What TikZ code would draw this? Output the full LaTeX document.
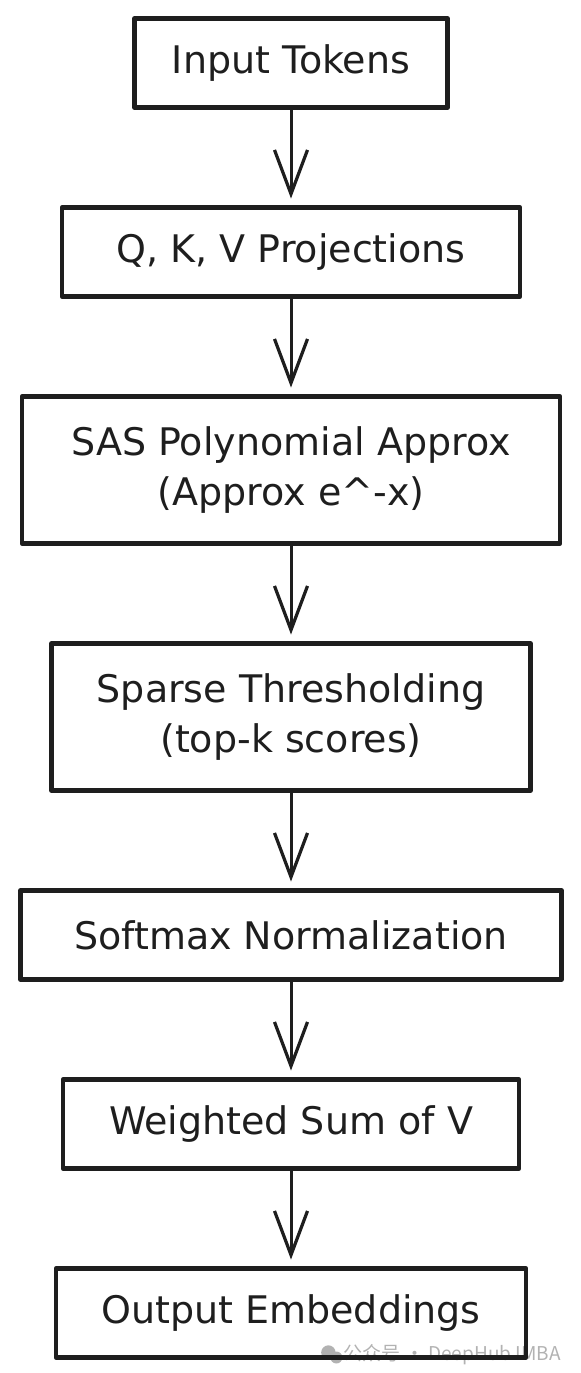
\documentclass[tikz,border=0pt]{standalone}
\usepackage{fontspec}
\setmainfont{DejaVu Sans}
\newfontfamily\cjkfont{Noto Sans CJK SC}
\usepackage{tikz}
\usetikzlibrary{arrows.meta, positioning, backgrounds}

\definecolor{ink}{HTML}{1E1E1E}

\begin{document}
\begin{tikzpicture}[
    x=0.5pt, y=-0.5pt,
    stage/.style={draw=ink, line width=2.2pt, line join=round, inner sep=2pt, outer sep=0pt, align=center, text=ink, font=\fontsize{19}{25}\selectfont, minimum height=44.5pt},
    twoline/.style={minimum height=73.5pt},
    flow/.style={draw=ink, line width=1.5pt, shorten >=4.5pt, -{Straight Barb[length=22pt, width=16.5pt, line width=1.6pt]}},
    node distance=50pt,
    ]
    \useasboundingbox (0,0) rectangle (580,1373);

    % Input (top)
    \node[stage, minimum width=156.5pt] (tok) at (291, 63) {Input Tokens};

    % Projections and attention stages
    \node[stage, minimum width=229pt, below=of tok] (qkv) {Q, K, V Projections};
    \node[stage, twoline, minimum width=269pt, below=of qkv] (sas) {SAS Polynomial Approx\\(Approx e\^{}-x)};
    \node[stage, twoline, minimum width=239.5pt, below=of sas] (topk) {Sparse Thresholding\\(top-k scores)};
    \node[stage, minimum width=270.5pt, below=of topk] (soft) {Softmax Normalization};
    \node[stage, minimum width=228pt, below=of soft] (wsum) {Weighted Sum of V};

    % Output (bottom)
    \node[stage, minimum width=235pt, below=of wsum] (emb) {Output Embeddings};

    % Arrows between stages
    \draw[flow] (tok) -- (qkv);
    \draw[flow] (qkv) -- (sas);
    \draw[flow] (sas) -- (topk);
    \draw[flow] (topk) -- (soft);
    \draw[flow] (soft) -- (wsum);
    \draw[flow] (wsum) -- (emb);

    % Watermark (behind the last box)
    \begin{scope}[on background layer]
        \node[anchor=east, inner sep=0pt, text=black!30, font=\cjkfont\fontsize{9.5}{9.5}\selectfont] (wm) at ([xshift=17.5pt, yshift=1.5pt]emb.south east) {公众号 · DeepHub IMBA};
        \fill[black!30] ([xshift=-7.5pt, yshift=1pt]wm.west) circle (3.6pt);
        \fill[black!30] ([xshift=-3.5pt, yshift=-1.5pt]wm.west) circle (3pt);
    \end{scope}
\end{tikzpicture}
\end{document}
